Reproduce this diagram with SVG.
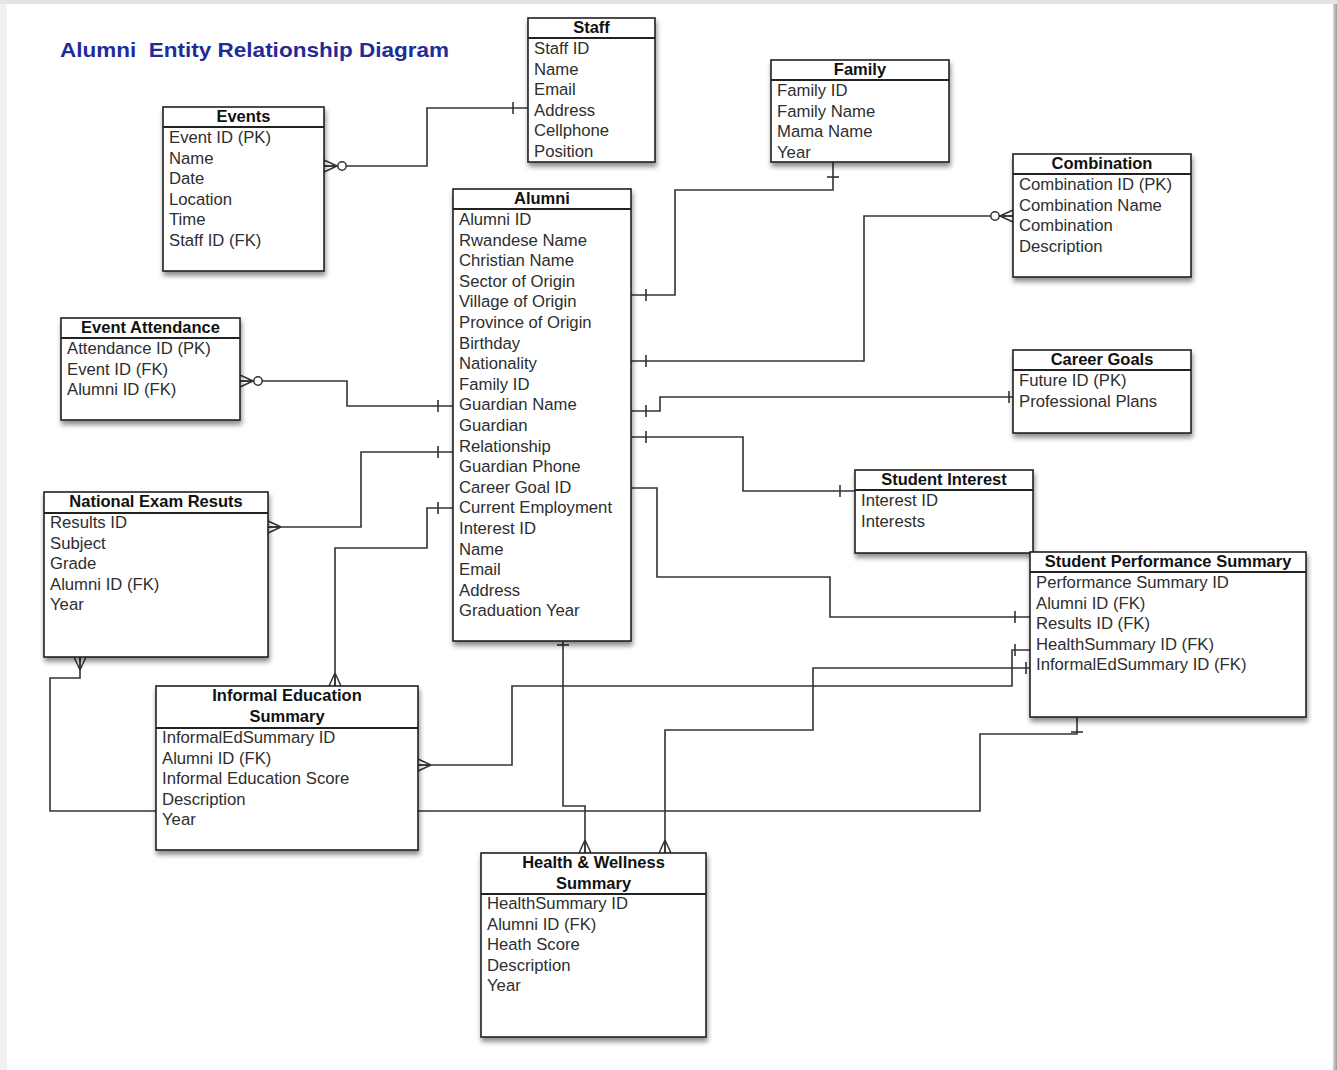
<svg xmlns="http://www.w3.org/2000/svg" width="1337" height="1070" viewBox="0 0 1337 1070">
<style>
  .box { fill: #ffffff; stroke: #222; stroke-width: 1.6; filter: url(#shadow); }
  .sep { stroke: #222; stroke-width: 1.8; }
  .hdr { font-family: "Liberation Sans", Arial, sans-serif; font-size: 16.5px; font-weight: bold; fill: #111; text-anchor: middle; }
  .row { font-family: "Liberation Sans", Arial, sans-serif; font-size: 16.7px; fill: #2e2e2e; }
  .title { font-family: "Liberation Sans", Arial, sans-serif; font-size: 20.5px; font-weight: bold; fill: #1f2c98; white-space: pre; }
  .conn { fill: none; stroke: #333; stroke-width: 1.6; }
</style>
<defs>
  <filter id="shadow" x="-10%" y="-10%" width="125%" height="130%">
    <feDropShadow dx="1" dy="4" stdDeviation="2.5" flood-color="#000" flood-opacity="0.45"/>
  </filter>
  <linearGradient id="rightEdge" x1="0" y1="0" x2="1" y2="0">
    <stop offset="0" stop-color="#d8d8d8"/>
    <stop offset="1" stop-color="#9a9a9a"/>
  </linearGradient>
  <marker id="one" viewBox="-20 -8 22 16" refX="0" refY="0" markerWidth="22" markerHeight="16" markerUnits="userSpaceOnUse" orient="auto-start-reverse" overflow="visible">
    <path d="M-15,-6 V6" stroke="#333" stroke-width="1.6" fill="none"/>
  </marker>
  <marker id="oneEdge" viewBox="-20 -8 22 16" refX="0" refY="0" markerWidth="22" markerHeight="16" markerUnits="userSpaceOnUse" orient="auto-start-reverse" overflow="visible">
    <path d="M-4,-6 V6" stroke="#333" stroke-width="1.6" fill="none"/>
  </marker>
  <marker id="many" viewBox="-20 -8 22 16" refX="0" refY="0" markerWidth="22" markerHeight="16" markerUnits="userSpaceOnUse" orient="auto-start-reverse" overflow="visible">
    <path d="M-13,0 L0,-6 M-13,0 L0,0 M-13,0 L0,6" stroke="#333" stroke-width="1.5" fill="none"/>
  </marker>
  <marker id="zeroMany" viewBox="-24 -8 26 16" refX="0" refY="0" markerWidth="26" markerHeight="16" markerUnits="userSpaceOnUse" orient="auto-start-reverse" overflow="visible">
    <path d="M-13,0 L0,-6 M-13,0 L0,0 M-13,0 L0,6" stroke="#333" stroke-width="1.5" fill="none"/>
    <circle cx="-18" cy="0" r="4.2" fill="#fff" stroke="#333" stroke-width="1.5"/>
  </marker>
</defs>

<!-- page background -->
<rect x="0" y="0" width="1337" height="1070" fill="#f1f1f1"/>
<rect x="7" y="4" width="1327" height="1066" fill="#ffffff"/>
<rect x="0" y="0" width="1337" height="4" fill="#e4e4e4"/>
<rect x="1333" y="4" width="4" height="1066" fill="url(#rightEdge)"/>

<text class="title" x="60" y="57" textLength="389" lengthAdjust="spacingAndGlyphs" xml:space="preserve">Alumni  Entity Relationship Diagram</text>

<g id="connectors">
  <path class="conn" d="M528,108 H427 V166 H324" marker-start="url(#one)" marker-end="url(#zeroMany)"/>
  <path class="conn" d="M833,162 V190 H675 V295 H631" marker-start="url(#one)" marker-end="url(#one)"/>
  <path class="conn" d="M631,361 H864 V216 H1013" marker-start="url(#one)" marker-end="url(#zeroMany)"/>
  <path class="conn" d="M631,411 H660 V397 H1013" marker-start="url(#one)" marker-end="url(#oneEdge)"/>
  <path class="conn" d="M631,437 H743 V491 H855" marker-start="url(#one)" marker-end="url(#one)"/>
  <path class="conn" d="M631,488 H657 V577 H830 V617 H1030" marker-end="url(#one)"/>
  <path class="conn" d="M453,406 H347 V381 H240" marker-start="url(#one)" marker-end="url(#zeroMany)"/>
  <path class="conn" d="M453,452 H361 V527 H268" marker-start="url(#one)" marker-end="url(#many)"/>
  <path class="conn" d="M453,508 H427 V548 H335 V686" marker-start="url(#one)" marker-end="url(#many)"/>
  <path class="conn" d="M563,641 V806 H585 V853" marker-start="url(#oneEdge)" marker-end="url(#many)"/>
  <path class="conn" d="M1077,717 V734 H980 V811 H50 V678 H80 V657" marker-start="url(#one)" marker-end="url(#many)"/>
  <path class="conn" d="M1030,650 H1012 V686 H512 V765 H418" marker-start="url(#one)" marker-end="url(#many)"/>
  <path class="conn" d="M1030,668 H813 V730 H665 V853" marker-start="url(#oneEdge)" marker-end="url(#many)"/>
</g>

<g id="staff">
  <rect class="box" x="528" y="18" width="127" height="144"/>
  <line class="sep" x1="528" y1="38" x2="655" y2="38"/>
  <text class="hdr" x="591.5" y="33">Staff</text>
  <text class="row" x="534" y="54">Staff ID</text>
  <text class="row" x="534" y="74.6">Name</text>
  <text class="row" x="534" y="95.2">Email</text>
  <text class="row" x="534" y="115.8">Address</text>
  <text class="row" x="534" y="136.4">Cellphone</text>
  <text class="row" x="534" y="157">Position</text>
</g>

<g id="events">
  <rect class="box" x="163" y="107" width="161" height="164"/>
  <line class="sep" x1="163" y1="127" x2="324" y2="127"/>
  <text class="hdr" x="243.5" y="122">Events</text>
  <text class="row" x="169" y="143">Event ID (PK)</text>
  <text class="row" x="169" y="163.6">Name</text>
  <text class="row" x="169" y="184.2">Date</text>
  <text class="row" x="169" y="204.8">Location</text>
  <text class="row" x="169" y="225.4">Time</text>
  <text class="row" x="169" y="246">Staff ID (FK)</text>
</g>

<g id="family">
  <rect class="box" x="771" y="60" width="178" height="102"/>
  <line class="sep" x1="771" y1="80" x2="949" y2="80"/>
  <text class="hdr" x="860" y="75">Family</text>
  <text class="row" x="777" y="96">Family ID</text>
  <text class="row" x="777" y="116.6">Family Name</text>
  <text class="row" x="777" y="137.2">Mama Name</text>
  <text class="row" x="777" y="157.8">Year</text>
</g>

<g id="combination">
  <rect class="box" x="1013" y="154" width="178" height="123"/>
  <line class="sep" x1="1013" y1="174" x2="1191" y2="174"/>
  <text class="hdr" x="1102" y="169">Combination</text>
  <text class="row" x="1019" y="190">Combination ID (PK)</text>
  <text class="row" x="1019" y="210.6">Combination Name</text>
  <text class="row" x="1019" y="231.2">Combination</text>
  <text class="row" x="1019" y="251.8">Description</text>
</g>

<g id="alumni">
  <rect class="box" x="453" y="189" width="178" height="452"/>
  <line class="sep" x1="453" y1="209" x2="631" y2="209"/>
  <text class="hdr" x="542" y="204">Alumni</text>
  <text class="row" x="459" y="225">Alumni ID</text>
  <text class="row" x="459" y="245.6">Rwandese Name</text>
  <text class="row" x="459" y="266.2">Christian Name</text>
  <text class="row" x="459" y="286.8">Sector of Origin</text>
  <text class="row" x="459" y="307.4">Village of Origin</text>
  <text class="row" x="459" y="328">Province of Origin</text>
  <text class="row" x="459" y="348.6">Birthday</text>
  <text class="row" x="459" y="369.2">Nationality</text>
  <text class="row" x="459" y="389.8">Family ID</text>
  <text class="row" x="459" y="410.4">Guardian Name</text>
  <text class="row" x="459" y="431">Guardian</text>
  <text class="row" x="459" y="451.6">Relationship</text>
  <text class="row" x="459" y="472.2">Guardian Phone</text>
  <text class="row" x="459" y="492.8">Career Goal ID</text>
  <text class="row" x="459" y="513.4">Current Employment</text>
  <text class="row" x="459" y="534">Interest ID</text>
  <text class="row" x="459" y="554.6">Name</text>
  <text class="row" x="459" y="575.2">Email</text>
  <text class="row" x="459" y="595.8">Address</text>
  <text class="row" x="459" y="616.4">Graduation Year</text>
</g>

<g id="event-attendance">
  <rect class="box" x="61" y="318" width="179" height="102"/>
  <line class="sep" x1="61" y1="338" x2="240" y2="338"/>
  <text class="hdr" x="150.5" y="333">Event Attendance</text>
  <text class="row" x="67" y="354">Attendance ID (PK)</text>
  <text class="row" x="67" y="374.6">Event ID (FK)</text>
  <text class="row" x="67" y="395.2">Alumni ID (FK)</text>
</g>

<g id="national-exam-results">
  <rect class="box" x="44" y="492" width="224" height="165"/>
  <line class="sep" x1="44" y1="513" x2="268" y2="513"/>
  <text class="hdr" x="156" y="507">National Exam Resuts</text>
  <text class="row" x="50" y="528">Results ID</text>
  <text class="row" x="50" y="548.6">Subject</text>
  <text class="row" x="50" y="569.2">Grade</text>
  <text class="row" x="50" y="589.8">Alumni ID (FK)</text>
  <text class="row" x="50" y="610.4">Year</text>
</g>

<g id="career-goals">
  <rect class="box" x="1013" y="350" width="178" height="83"/>
  <line class="sep" x1="1013" y1="370" x2="1191" y2="370"/>
  <text class="hdr" x="1102" y="365">Career Goals</text>
  <text class="row" x="1019" y="386">Future ID (PK)</text>
  <text class="row" x="1019" y="406.6">Professional Plans</text>
</g>

<g id="student-interest">
  <rect class="box" x="855" y="470" width="178" height="83"/>
  <line class="sep" x1="855" y1="490" x2="1033" y2="490"/>
  <text class="hdr" x="944" y="485">Student Interest</text>
  <text class="row" x="861" y="506">Interest ID</text>
  <text class="row" x="861" y="526.6">Interests</text>
</g>

<g id="student-performance-summary">
  <rect class="box" x="1030" y="552" width="276" height="165"/>
  <line class="sep" x1="1030" y1="572" x2="1306" y2="572"/>
  <text class="hdr" x="1168" y="567">Student Performance Summary</text>
  <text class="row" x="1036" y="588">Performance Summary ID</text>
  <text class="row" x="1036" y="608.6">Alumni ID (FK)</text>
  <text class="row" x="1036" y="629.2">Results ID (FK)</text>
  <text class="row" x="1036" y="649.8">HealthSummary ID (FK)</text>
  <text class="row" x="1036" y="670.4">InformalEdSummary ID (FK)</text>
</g>

<g id="informal-education-summary">
  <rect class="box" x="156" y="686" width="262" height="164"/>
  <line class="sep" x1="156" y1="728" x2="418" y2="728"/>
  <text class="hdr" x="287" y="701">Informal Education</text>
  <text class="hdr" x="287" y="722">Summary</text>
  <text class="row" x="162" y="743">InformalEdSummary ID</text>
  <text class="row" x="162" y="763.6">Alumni ID (FK)</text>
  <text class="row" x="162" y="784.2">Informal Education Score</text>
  <text class="row" x="162" y="804.8">Description</text>
  <text class="row" x="162" y="825.4">Year</text>
</g>

<g id="health-wellness-summary">
  <rect class="box" x="481" y="853" width="225" height="184"/>
  <line class="sep" x1="481" y1="894" x2="706" y2="894"/>
  <text class="hdr" x="593.5" y="868">Health &amp; Wellness</text>
  <text class="hdr" x="593.5" y="889">Summary</text>
  <text class="row" x="487" y="909">HealthSummary ID</text>
  <text class="row" x="487" y="929.6">Alumni ID (FK)</text>
  <text class="row" x="487" y="950.2">Heath Score</text>
  <text class="row" x="487" y="970.8">Description</text>
  <text class="row" x="487" y="991.4">Year</text>
</g>
</svg>
